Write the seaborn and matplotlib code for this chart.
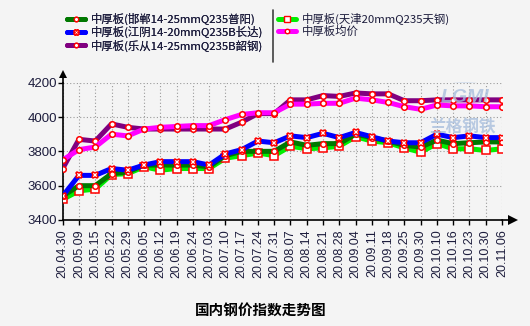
import numpy as np
import pandas as pd
import matplotlib
matplotlib.use("Agg")
import matplotlib.pyplot as plt
import seaborn as sns
from matplotlib.lines import Line2D
from matplotlib.patches import Ellipse

# Weekly dates and plate prices (yuan/ton)
dates = ["20.04.30", "20.05.09", "20.05.15", "20.05.22", "20.05.29", "20.06.05",
         "20.06.12", "20.06.19", "20.06.24", "20.07.03", "20.07.10", "20.07.17",
         "20.07.24", "20.07.31", "20.08.07", "20.08.14", "20.08.21", "20.08.28",
         "20.09.04", "20.09.11", "20.09.18", "20.09.25", "20.09.30", "20.10.10",
         "20.10.16", "20.10.23", "20.10.30", "20.11.06"]

handan = [3540, 3600, 3600, 3670, 3680, 3720, 3720, 3720, 3720, 3710, 3775, 3800,
          3800, 3800, 3855, 3835, 3845, 3845, 3900, 3880, 3860, 3835, 3825, 3865,
          3845, 3850, 3855, 3855]
jiangyin = [3540, 3660, 3660, 3700, 3690, 3720, 3740, 3740, 3740, 3720, 3785, 3810,
            3860, 3850, 3890, 3880, 3905, 3880, 3910, 3885, 3860, 3850, 3850, 3900,
            3880, 3890, 3880, 3880]
lecong = [3700, 3870, 3860, 3960, 3940, 3930, 3930, 3930, 3930, 3930, 3930, 3970,
          4020, 4020, 4100, 4100, 4125, 4120, 4140, 4135, 4135, 4095, 4095, 4100,
          4100, 4100, 4100, 4100]
tianjin = [3520, 3570, 3580, 3665, 3670, 3710, 3690, 3700, 3700, 3700, 3760, 3775,
           3790, 3775, 3830, 3815, 3820, 3830, 3885, 3860, 3850, 3820, 3795, 3845,
           3815, 3815, 3805, 3815]
average = [3750, 3810, 3825, 3900, 3890, 3930, 3940, 3945, 3950, 3950, 3985, 4015,
           4025, 4025, 4075, 4075, 4080, 4080, 4110, 4100, 4085, 4060, 4045, 4070,
           4065, 4065, 4060, 4060]

labels = ["中厚板(邯郸14-25mmQ235普阳)", "中厚板(江阴14-20mmQ235B长达)",
          "中厚板(乐从14-25mmQ235B韶钢)", "中厚板(天津20mmQ235天钢)", "中厚板均价"]
y_ticks = [3400, 3600, 3800, 4000, 4200]

sns.set_theme(style="white")
plt.rcParams['font.family'] = ['Liberation Sans', 'Noto Sans CJK SC', 'DejaVu Sans']

BG = '#f4f4f4'
TXT = '#1c1c3c'
W, H = 530, 326
fig = plt.figure(figsize=(W / 100, H / 100), dpi=100, facecolor=BG)
ax = fig.add_axes([62.7 / W, 1 - 220 / H, (502 - 62.7) / W, (220 - 82.7) / H], facecolor=BG)

# faint logo watermark
fig.add_artist(Ellipse((465 / W, 1 - 97 / H), 72 / W, 30 / H, transform=fig.transFigure,
                       facecolor='#c4d4ea', edgecolor='none', alpha=0.6, zorder=0))
fig.text(465 / W, 1 - 97 / H, "LGMI", ha='center', va='center', fontsize=14,
         fontweight='bold', style='italic', color='#a9bfdd', alpha=0.8, zorder=0)
fig.text(462 / W, 1 - 127 / H, "兰格钢铁", ha='center', va='center', fontsize=12,
         family=['Noto Sans CJK SC'], fontweight='bold', color='#a9bfdd', alpha=0.8, zorder=0)

x = np.arange(len(dates))
df = pd.DataFrame({"idx": x, "handan": handan, "jiangyin": jiangyin,
                   "lecong": lecong, "tianjin": tianjin, "average": average})

styles = {
    "tianjin": dict(color='#00ee00', marker='s', markersize=5.5),
    "handan": dict(color='#007800', marker='o', markersize=4),
    "jiangyin": dict(color='#0000ff', marker='X', markersize=5),
    "lecong": dict(color='#800080', marker='o', markersize=4),
    "average": dict(color='#ff00ff', marker='o', markersize=4),
}
for key in ["tianjin", "handan", "jiangyin", "lecong", "average"]:
    st = styles[key]
    sns.lineplot(data=df, x="idx", y=key, ax=ax, color=st['color'], linewidth=3.6,
                 marker=st['marker'], markersize=st['markersize'],
                 markerfacecolor='white', markeredgecolor='red', markeredgewidth=1.1,
                 legend=False, zorder=3)

ax.set_xlim(0, len(dates) - 1)
ax.set_ylim(3400, 4200)
ax.set_xticks(x)
ax.set_xticklabels(dates, rotation=90, fontsize=9, color=TXT)
ax.set_yticks(y_ticks)
ax.set_yticklabels([str(v) for v in y_ticks], fontsize=9.5, color=TXT)
ax.set_xlabel("")
ax.set_ylabel("")
ax.tick_params(axis='both', direction='out', length=3.5, width=1, color='black',
               bottom=True, left=True)
ax.tick_params(axis='y', pad=0.5)
ax.tick_params(axis='x', pad=3)
ax.grid(True, color='#9a9a9a', linestyle=(0, (1, 2)), linewidth=0.8)
ax.set_axisbelow(True)

for side in ['top', 'right']:
    ax.spines[side].set_visible(False)
for side in ['left', 'bottom']:
    ax.spines[side].set_color('black')
    ax.spines[side].set_linewidth(1.2)

# axis arrows
ax.plot([0, 0], [1, 1.05], transform=ax.transAxes, color='black', lw=1.2, clip_on=False)
ax.plot([0], [1.06], transform=ax.transAxes, marker='^', markersize=6.2, color='black',
        mew=0, clip_on=False)
ax.plot([1, 1.02], [0, 0], transform=ax.transAxes, color='black', lw=1.2, clip_on=False)
ax.plot([1.0257], [0], transform=ax.transAxes, marker='>', markersize=7.5, color='black',
        mew=0, clip_on=False)

# legend (two blocks separated by a vertical rule)
def handle(key):
    st = styles[key]
    return Line2D([], [], color=st['color'], lw=3.6, marker=st['marker'],
                  markersize=st['markersize'] * 0.8, markerfacecolor='white',
                  markeredgecolor='red', markeredgewidth=1)

leg_kw = dict(frameon=False, handlelength=1.6, handletextpad=0.5,
              labelspacing=0.12, borderpad=0, borderaxespad=0, loc='upper left',
              prop={'family': ['Noto Sans CJK SC'], 'size': 8.2})
leg1 = fig.legend([handle("handan"), handle("jiangyin"), handle("lecong")], labels[:3],
                  bbox_to_anchor=(67 / W, 1 - 12.5 / H), **leg_kw)
leg2 = fig.legend([handle("tianjin"), handle("average")], labels[3:],
                  bbox_to_anchor=(278 / W, 1 - 12.5 / H), **leg_kw)
for lg in (leg1, leg2):
    for t in lg.get_texts():
        t.set_color(TXT)
fig.add_artist(leg1)
fig.add_artist(Line2D([273 / W, 273 / W], [1 - 10 / H, 1 - 62 / H], color='#404040', lw=1.2))

fig.text(261 / W, 1 - 310 / H, "国内钢价指数走势图", ha='center', va='center', fontsize=10.5,
         fontweight='bold', family=['Noto Sans CJK SC'], color='black')

fig.savefig("out.png", dpi=100, facecolor=BG)
